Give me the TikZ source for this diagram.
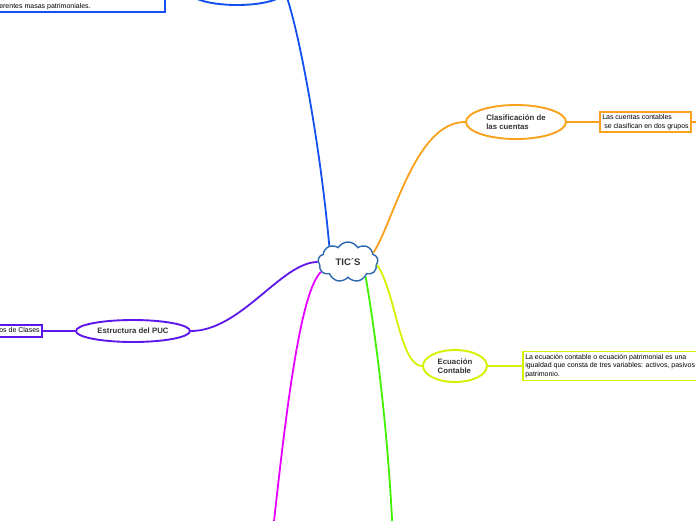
\documentclass[tikz,border=0pt]{standalone}
\usepackage{fontspec}
\setmainfont{Liberation Sans}
\definecolor{ticblue}{HTML}{1450F0}
\definecolor{ticcloud}{HTML}{2A68B0}
\definecolor{ticorange}{HTML}{F9A11B}
\definecolor{ticyellow}{HTML}{D6F000}
\definecolor{ticpurple}{HTML}{5E17EB}
\definecolor{ticmagenta}{HTML}{E600FF}
\definecolor{ticgreen}{HTML}{40F000}
\definecolor{ticgray}{HTML}{333333}
\usetikzlibrary{positioning,shapes.geometric,shapes.symbols}

\begin{document}
\begin{tikzpicture}[
    x=1pt, y=-1pt,
    topic/.style={ellipse, draw=#1, fill=white, line width=1.9pt, inner sep=0pt,
                  font=\fontsize{7.8}{9}\selectfont\bfseries, text=ticgray, align=left},
    note/.style={draw=#1, fill=white, line width=1.6pt, inner sep=2.5pt,
                 font=\fontsize{7}{8.8}\selectfont, align=left},
    branch/.style={line width=1.8pt, #1},
  ]
  \useasboundingbox (0,0) rectangle (696,520);
  \clip (0,0) rectangle (696,520);

  \node[cloud, cloud puffs=9, cloud puff arc=120, aspect=1.5, draw=ticcloud,
        fill=white, line width=1.4pt, minimum width=60pt, minimum height=40pt,
        inner sep=0pt, font=\fontsize{9.5}{10}\selectfont\bfseries, text=ticgray]
        (tics) at (348,262) {TIC´S};

  \node[topic=ticblue, minimum width=94pt, minimum height=26pt] (balance) at (237,-8) {};
  \node[note=ticblue, anchor=south east] (balbox) at (166,13)
        {De esta forma, se establecen unas relaciones entre las\\diferentes masas patrimoniales.};

  \node[topic=ticorange, minimum width=100pt, minimum height=34pt] (clasif) at (516,122)
        {Clasificación de\\las cuentas};
  \node[note=ticorange, right=32pt of clasif] (clsbox)
        {Las cuentas contables\\\hspace{2pt}se clasifican en dos grupos};
  \coordinate (clsout) at ([xshift=30pt]clsbox.east);

  \node[topic=ticyellow, minimum width=64pt, minimum height=32pt] (ecuacion) at (455,366)
        {Ecuación\\Contable};
  \node[note=ticyellow, right=34pt of ecuacion] (ecbox)
        {La ecuación contable o ecuación patrimonial es una\\igualdad que consta de tres variables: activos, pasivos y\\patrimonio.};

  \node[topic=ticpurple, minimum width=114pt, minimum height=22pt] (puc) at (133,331)
        {Estructura del PUC};
  \node[note=ticpurple, left=32pt of puc] (pucbox) {Grupos de Clases};

  \coordinate (magend) at (272,540);
  \coordinate (greenend) at (393,540);

  % branches out of the cloud
  \draw[branch=ticblue] (tics.139) .. controls +(-10,-110) and +(12,30) .. (balance.east);
  \draw[branch=ticorange] (tics.20) .. controls +(20,-30) and +(-50,0) .. (clasif.west);
  \draw[branch=ticyellow] (tics.-6) .. controls +(18,25) and +(-22,0) .. (ecuacion.west);
  \draw[branch=ticpurple] (tics.180) .. controls +(-36,0) and +(50,0) .. (puc.east);
  \draw[branch=ticmagenta] (tics.200) .. controls +(-20,20) and +(15,-140) .. (magend);
  \draw[branch=ticgreen] (tics.320) .. controls +(7,40) and +(-5,-120) .. (greenend);

  % topic to note
  \draw[branch=ticorange] (clasif.east) -- (clsbox.west);
  \draw[branch=ticorange] (clsbox.east) -- (clsout);
  \draw[branch=ticyellow] (ecuacion.east) -- (ecbox.west);
  \draw[branch=ticpurple] (puc.west) -- (pucbox.east);
\end{tikzpicture}
\end{document}
